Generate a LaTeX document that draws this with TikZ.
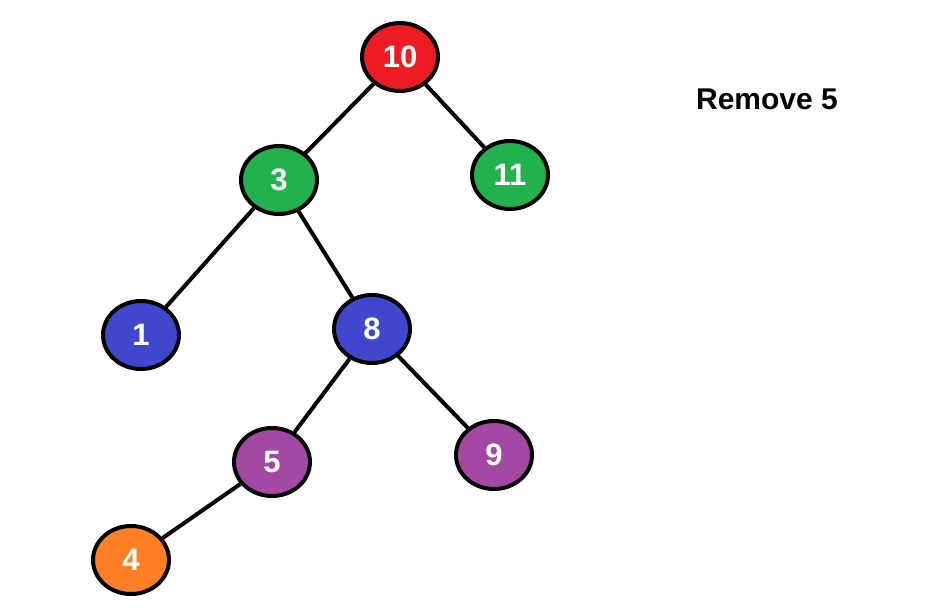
\documentclass[tikz,border=0pt]{standalone}
\usepackage{fontspec}
\setmainfont{Liberation Sans}
\usetikzlibrary{shapes.geometric}
\definecolor{bstred}{HTML}{ED1C24}
\definecolor{bstgreen}{HTML}{22B14C}
\definecolor{bstblue}{HTML}{3F48CC}
\definecolor{bstpurple}{HTML}{A349A4}
\definecolor{bstorange}{HTML}{FF7F27}
\tikzset{
  key/.style={ellipse, draw=black, line width=4pt, minimum width=76pt, minimum height=68pt,
    inner sep=0pt, text=white, font=\fontsize{31}{33}\selectfont\bfseries},
  link/.style={line width=4pt}
}
\begin{document}
\begin{tikzpicture}[x=1pt, y=-1pt]
      \useasboundingbox (0, 0) rectangle (949, 612);
      \node[key, fill=bstred] (10) at (400, 57){10};
      \node[key, fill=bstgreen] (3) at (279, 180){3};
      \node[key, fill=bstgreen] (11) at (510, 175){11};
      \node[key, fill=bstblue] (1) at (141, 335){1};
      \node[key, fill=bstblue] (8) at (372, 329){8};
      \node[key, fill=bstpurple] (5) at (272, 462){5};
      \node[key, fill=bstpurple] (9) at (494, 455){9};
      \node[key, fill=bstorange] (4) at (131, 560){4};
      \node[font=\fontsize{30}{33}\selectfont\bfseries] (title) at (767, 99){Remove 5};

      \draw[link] (10) -- (3);
      \draw[link] (10) -- (11);
      \draw[link] (3) -- (1);
      \draw[link] (3) -- (8);
      \draw[link] (8) -- (5);
      \draw[link] (8) -- (9);
      \draw[link] (5) -- (4);
    \end{tikzpicture}
\end{document}
